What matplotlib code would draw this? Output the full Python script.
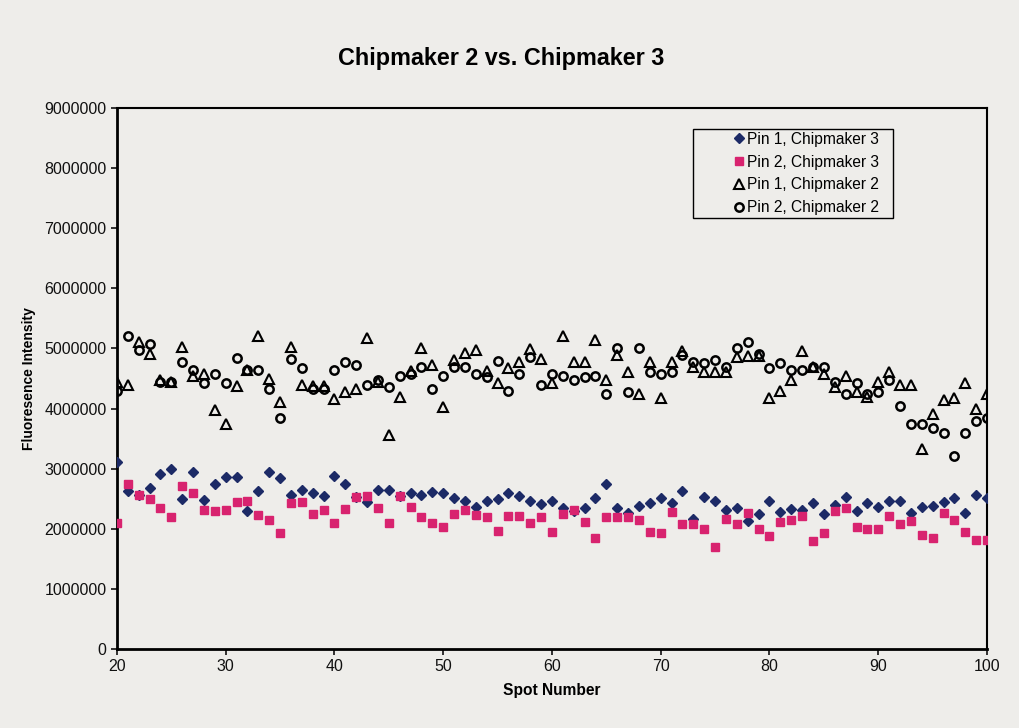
import matplotlib
matplotlib.use("Agg")
import matplotlib.pyplot as plt
from matplotlib.patches import Rectangle
from matplotlib.ticker import MultipleLocator, FuncFormatter

plt.rcParams["font.family"] = ["Liberation Sans", "DejaVu Sans"]

spots = list(range(20, 101))

# fluorescence intensity in millions
pin1_cm3 = [3.11, 2.63, 2.56, 2.68, 2.91, 3.00, 2.49, 2.94, 2.48, 2.74,
            2.87, 2.87, 2.29, 2.63, 2.95, 2.84, 2.57, 2.64, 2.60, 2.55,
            2.88, 2.75, 2.53, 2.45, 2.64, 2.64, 2.55, 2.60, 2.56, 2.61,
            2.60, 2.52, 2.46, 2.36, 2.46, 2.50, 2.59, 2.55, 2.47, 2.42,
            2.47, 2.34, 2.30, 2.34, 2.51, 2.74, 2.34, 2.26, 2.38, 2.43,
            2.51, 2.43, 2.63, 2.17, 2.53, 2.46, 2.31, 2.35, 2.13, 2.25,
            2.46, 2.28, 2.33, 2.31, 2.43, 2.25, 2.39, 2.53, 2.29, 2.43,
            2.36, 2.46, 2.46, 2.26, 2.36, 2.38, 2.45, 2.51, 2.26, 2.57,
            2.51]
pin2_cm3 = [2.10, 2.74, 2.56, 2.49, 2.34, 2.20, 2.72, 2.60, 2.32, 2.30,
            2.31, 2.45, 2.46, 2.23, 2.14, 1.93, 2.43, 2.44, 2.25, 2.32,
            2.10, 2.33, 2.53, 2.54, 2.35, 2.09, 2.54, 2.36, 2.20, 2.09,
            2.03, 2.24, 2.31, 2.23, 2.19, 1.96, 2.21, 2.21, 2.09, 2.19,
            1.95, 2.24, 2.31, 2.11, 1.85, 2.20, 2.19, 2.19, 2.15, 1.95,
            1.93, 2.28, 2.08, 2.08, 2.00, 1.69, 2.16, 2.08, 2.26, 1.99,
            1.88, 2.11, 2.14, 2.21, 1.80, 1.93, 2.30, 2.35, 2.03, 1.99,
            2.00, 2.21, 2.08, 2.13, 1.89, 1.84, 2.26, 2.15, 1.95, 1.81,
            1.81]
pin1_cm2 = [4.45, 4.39, 5.11, 4.90, 4.47, 4.45, 5.03, 4.55, 4.58, 3.97,
            3.75, 4.37, 4.65, 5.20, 4.50, 4.11, 5.03, 4.39, 4.38, 4.38,
            4.16, 4.28, 4.32, 5.17, 4.45, 3.56, 4.20, 4.63, 5.00, 4.72,
            4.03, 4.80, 4.93, 4.97, 4.63, 4.42, 4.68, 4.77, 4.99, 4.82,
            4.42, 5.20, 4.78, 4.78, 5.14, 4.47, 4.89, 4.61, 4.25, 4.78,
            4.17, 4.78, 4.96, 4.69, 4.61, 4.61, 4.61, 4.85, 4.87, 4.87,
            4.17, 4.29, 4.48, 4.96, 4.70, 4.57, 4.36, 4.55, 4.28, 4.20,
            4.44, 4.61, 4.39, 4.39, 3.33, 3.91, 4.15, 4.17, 4.43, 4.00,
            4.25]
pin2_cm2 = [4.30, 5.20, 4.98, 5.08, 4.45, 4.44, 4.77, 4.65, 4.43, 4.58,
            4.42, 4.84, 4.65, 4.64, 4.32, 3.85, 4.83, 4.67, 4.32, 4.32,
            4.64, 4.78, 4.72, 4.39, 4.47, 4.36, 4.55, 4.58, 4.69, 4.33,
            4.55, 4.70, 4.70, 4.58, 4.52, 4.79, 4.29, 4.58, 4.85, 4.39,
            4.57, 4.55, 4.47, 4.53, 4.55, 4.25, 5.00, 4.28, 5.00, 4.61,
            4.58, 4.61, 4.89, 4.78, 4.75, 4.80, 4.69, 5.00, 5.11, 4.91,
            4.67, 4.75, 4.64, 4.65, 4.70, 4.69, 4.45, 4.24, 4.42, 4.24,
            4.28, 4.47, 4.04, 3.75, 3.75, 3.68, 3.60, 3.21, 3.60, 3.80,
            3.85]

bg = "#eeedea"

fig = plt.figure(figsize=(10.19, 7.28), dpi=100, facecolor=bg)
ax = fig.add_axes([0.1148, 0.1085, 0.8538, 0.7431], facecolor=bg)

scale = 1e6
ax.plot(spots, [v * scale for v in pin1_cm3], ls="none", marker="D", ms=5.5,
        mfc="#1c2a66", mec="#1c2a66", label="Pin 1, Chipmaker 3", zorder=3)
ax.plot(spots, [v * scale for v in pin2_cm3], ls="none", marker="s", ms=6,
        mfc="#d8236f", mec="#d8236f", label="Pin 2, Chipmaker 3", zorder=3)
ax.plot(spots, [v * scale for v in pin1_cm2], ls="none", marker="^", ms=7,
        mfc="none", mec="black", mew=1.5, label="Pin 1, Chipmaker 2", zorder=3)
ax.plot(spots, [v * scale for v in pin2_cm2], ls="none", marker="o", ms=6,
        mfc="none", mec="black", mew=1.8, label="Pin 2, Chipmaker 2", zorder=3)

ax.set_xlim(20, 100)
ax.set_ylim(0, 9000000)
ax.xaxis.set_major_locator(MultipleLocator(10))
ax.yaxis.set_major_locator(MultipleLocator(1000000))
ax.yaxis.set_major_formatter(FuncFormatter(lambda v, p: "%d" % v))
ax.tick_params(direction="out", length=4, width=1.2, labelsize=11.5, colors="#111111")

for side in ["left", "bottom"]:
    ax.spines[side].set_linewidth(2)
for side in ["top", "right"]:
    ax.spines[side].set_linewidth(1.5)

ax.set_xlabel("Spot Number", fontsize=11.2, fontweight="bold", labelpad=6)
ax.set_ylabel("Fluoresence Intensity", fontsize=10, fontweight="bold", labelpad=6)
fig.text(0.492, 0.92, "Chipmaker 2 vs. Chipmaker 3", ha="center", va="center",
         fontsize=16.8, fontweight="bold")

# legend frame is wider than its entries, text hugs the right side
fig.patches.append(Rectangle((0.680, 0.7005), 0.196, 0.1223, transform=fig.transFigure,
                             facecolor=bg, edgecolor="black", linewidth=1, zorder=4))
leg = fig.legend(loc="upper right", bbox_to_anchor=(0.863, 0.819), fontsize=11.2,
                 frameon=False, handlelength=0.6, handletextpad=0.25,
                 labelspacing=0.5, borderpad=0, borderaxespad=0)
leg.set_zorder(5)

fig.savefig("out.png", dpi=100, facecolor=bg)
plt.close(fig)
